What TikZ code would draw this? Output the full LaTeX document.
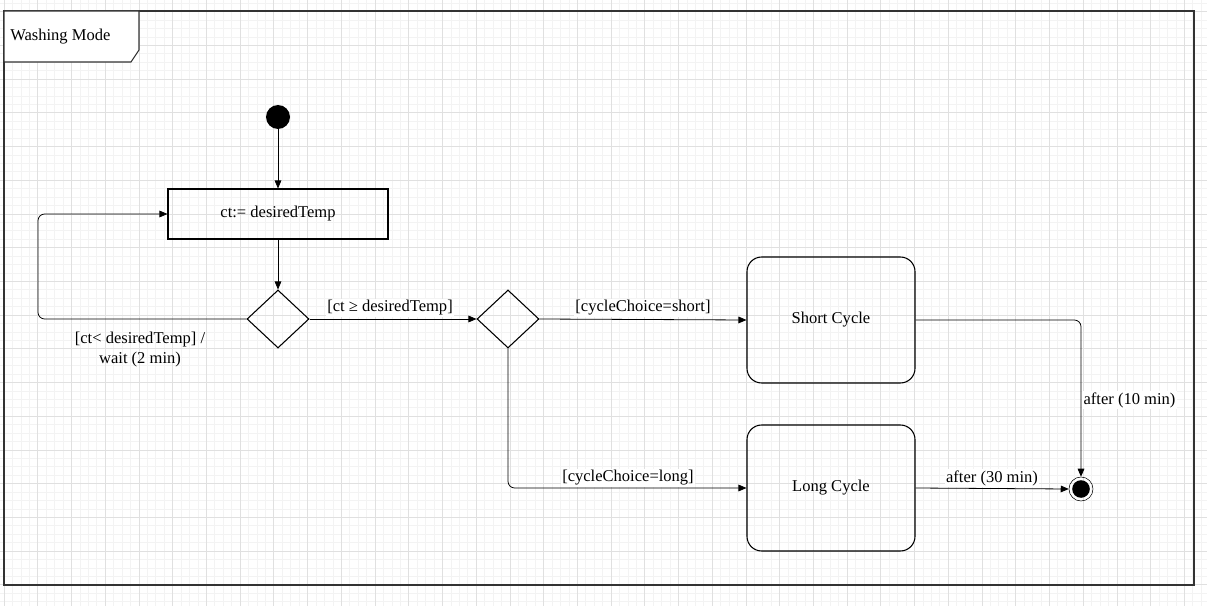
\documentclass[tikz,border=0pt]{standalone}
\usepackage{fontspec}
\setmainfont{Liberation Serif}
\usetikzlibrary{shapes.geometric,arrows.meta}
\definecolor{gridmin}{HTML}{F3F3F3}
\definecolor{gridmaj}{HTML}{E0E0E0}
\definecolor{framec}{HTML}{333333}
\begin{document}
\begin{tikzpicture}[
	  x=0.75pt, y=-0.75pt,
	  font=\fontsize{12.4}{15}\selectfont,
	  >={Triangle[length=6pt,width=5pt]},
	  actbox/.style={draw, thick, minimum width=165pt, minimum height=37.5pt, inner sep=0pt},
	  statebox/.style={draw, thick, rounded corners=11pt, minimum width=126pt, minimum height=94.5pt, inner sep=0pt},
	  choice/.style={draw, thick, diamond, minimum width=46.5pt, minimum height=43.5pt, inner sep=0pt},
	  glabel/.style={fill=white, inner sep=1pt},
	  flow/.style={->, semithick, rounded corners=5pt},
	]
	\useasboundingbox (0,0) rectangle (1207,606);
	\fill [white] (0,0) rectangle (1207,606);

	% grid
	\foreach \k in {0,...,142} \draw [gridmin] ({4+\k*8.43},0) -- ({4+\k*8.43},606);
	\foreach \k in {-1,...,70} \draw [gridmin] (0,{11.5+\k*8.43}) -- (1207,{11.5+\k*8.43});
	\foreach \k in {0,...,35} \draw [gridmaj] ({4+\k*33.72},0) -- ({4+\k*33.72},606);
	\foreach \k in {0,...,17} \draw [gridmaj] (0,{11.5+\k*33.72}) -- (1207,{11.5+\k*33.72});

	% frame and tab
	\draw [framec, thick] (4,11) rectangle (1194,585);
	\draw [framec, thick, fill=white] (4,11) -- (139,11) -- (139,50) -- (131,62) -- (4,62) -- cycle;
	\node [anchor=west, inner sep=0pt] (title) at (10,37) {Washing Mode};

	% nodes
	\node [circle, fill=black, minimum size=18pt, inner sep=0pt] (start) at (278,117) {};
	\node [actbox] (ct) at (278,214) {ct:= desiredTemp};
	\node [choice] (d1) at (278,319) {};
	\node [choice] (d2) at (508,319) {};
	\node [statebox] (sc) at (831,320) {Short Cycle};
	\node [statebox] (lc) at (831,488) {Long Cycle};
	\node [circle, draw, minimum size=18pt, inner sep=0pt] (fin) at (1081,489) {};
	\fill (fin.center) circle [radius=6.6pt];
	\coordinate (loop) at (38,319);

	% connectors
	\draw [flow] (start) -- (ct);
	\draw [flow] (ct) -- (d1);
	\draw [flow] (d1.west) -- (loop) |- (ct.west);
	\draw [flow] (d1.east) -- (d2.west);
	\draw [flow] (d2.east) -- (sc.west);
	\draw [flow] (d2.south) |- (lc.west);
	\draw [flow] (sc.east) -| (fin.north);
	\draw [flow] (lc.east) -- (fin.west);

	% labels
	\node [align=center] (lloop) at (140,350) {[ct< desiredTemp] /\\wait (2 min)};
	\node [glabel] (lge) at (390,308) {[ct ≥ desiredTemp]};
	\node [glabel] (lshort) at (643,308) {[cycleChoice=short]};
	\node [glabel] (llong) at (628,478) {[cycleChoice=long]};
	\node [glabel, anchor=west] (l10) at (1082,400) {after (10 min)};
	\node [glabel] (l30) at (992,478) {after (30 min)};
\end{tikzpicture}
\end{document}
